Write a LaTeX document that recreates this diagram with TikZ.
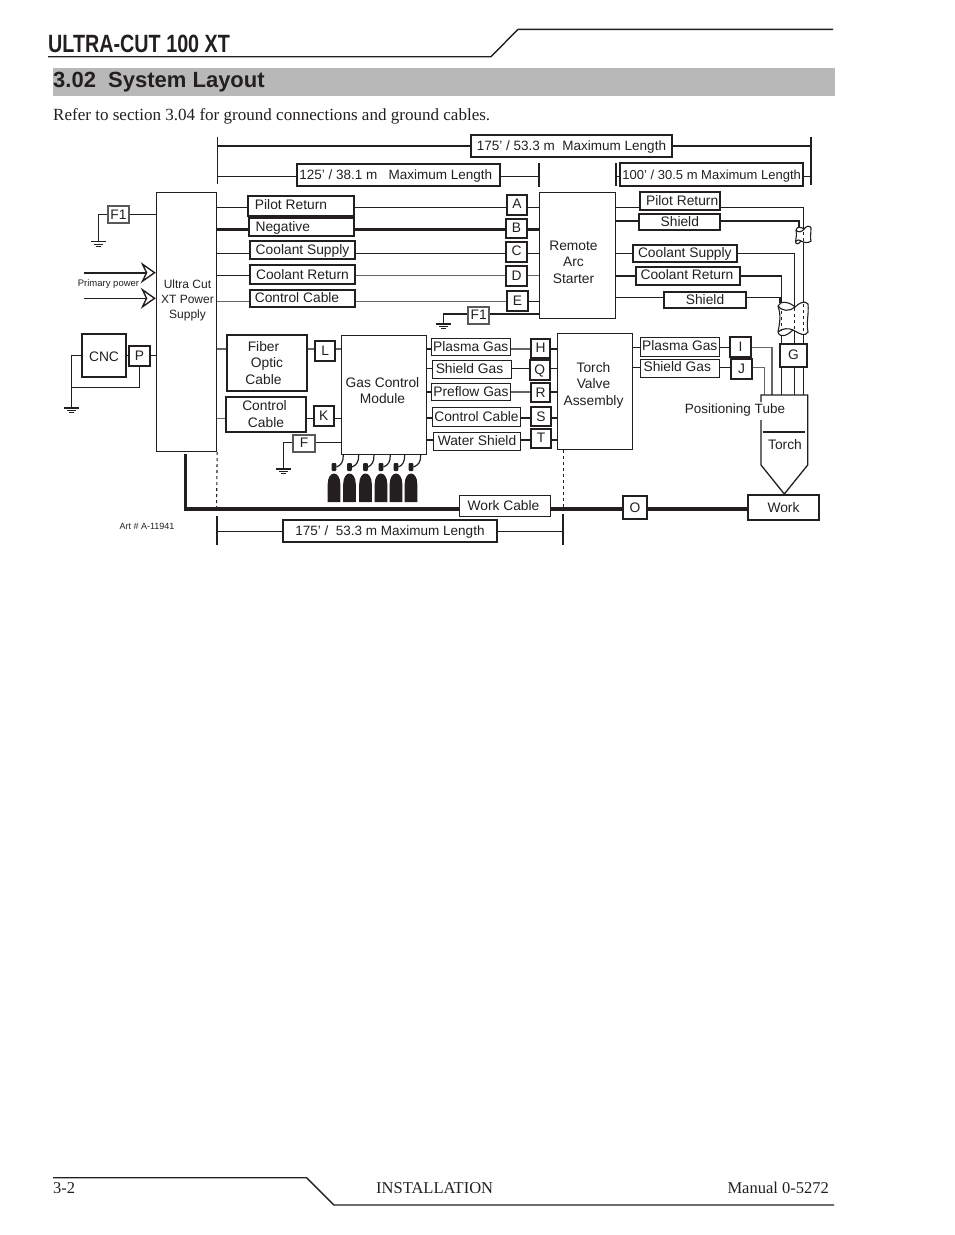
\documentclass[tikz,border=0pt]{standalone}
\usepackage{fontspec}
\setmainfont{Liberation Serif}
\setsansfont{Liberation Sans}
\usetikzlibrary{arrows.meta}
\definecolor{bandgray}{RGB}{184,184,184}
\definecolor{inkblack}{RGB}{35,31,32}
\tikzset{
  lbl/.style={draw=inkblack,text=inkblack,line width=1pt,inner sep=0pt,align=center,font=\sffamily\fontsize{13.8}{16.5}\selectfont,text height=12pt,text depth=3pt},
  lblb/.style={lbl,line width=1.9pt},
  lblg/.style={lbl,draw=black!65,line width=1.9pt},
  ltr/.style={text height=10pt},
  multi/.style={text height=,text depth=},
  lenfont/.style={font=\sffamily\fontsize{13.5}{16}\selectfont},
  sz/.style 2 args={minimum width=#1pt,minimum height=#2pt},
  txt/.style={text=inkblack,inner sep=0pt,align=center,font=\sffamily\fontsize{13.8}{16.5}\selectfont},
  wire/.style={draw=inkblack,line width=1.1pt},
  wireg/.style={draw=black!60,line width=1.3pt},
  wireb/.style={draw=inkblack,line width=3pt},
  dimbar/.style={draw=inkblack,line width=1.6pt},
  gnd/.pic={\draw[wire] (-7.3,0) -- (7.3,0) (-4.3,2.4) -- (4.3,2.4) (-2.3,4.7) -- (2.3,4.7);},
  cyl/.pic={\fill[inkblack] (-6.3,0) -- (-6.3,-18) .. controls (-6.3,-25) and (-3,-28.5) .. (0,-28.5) .. controls (3,-28.5) and (6.3,-25) .. (6.3,-18) -- (6.3,0) -- cycle;
    \fill[inkblack,rounded corners=1pt] (-2.4,-31) rectangle (2.4,-39);},
  pwrtip/.style={-{Stealth[open,length=15pt,width=21pt,inset=5pt,line width=1.4pt]}}
}
\begin{document}
\begin{tikzpicture}[x=1pt,y=-1pt]
\useasboundingbox (0,0) rectangle (954,1235);
% page head
\node[anchor=base west,inner sep=0pt,text=inkblack] (title) at (48,52.5) {\scalebox{.79}[1]{\sffamily\bfseries\fontsize{25}{25}\selectfont ULTRA-CUT 100 XT}};
\draw[inkblack,line width=1.4pt] (48,56.7) -- (491,56.7) -- (518,29.3) -- (833,29.3);
\fill[bandgray] (53,68) rectangle (835,96);
\node[anchor=base west,inner sep=0pt,text=inkblack] (heading) at (53,87) {\sffamily\bfseries\fontsize{22}{22}\selectfont 3.02\hspace{.556em}System Layout};
\node[anchor=base west,inner sep=0pt,text=inkblack] (refer) at (53,120) {\fontsize{17.05}{18}\selectfont Refer to section 3.04 for ground connections and ground cables.};
% page foot
\draw[inkblack,line width=1.4pt] (53,1177.7) -- (306.7,1177.7) -- (333.8,1205) -- (834,1205);
\node[anchor=base west,inner sep=0pt,text=inkblack] (pageno) at (53,1193) {\fontsize{16.5}{18}\selectfont 3-2};
\node[anchor=base west,inner sep=0pt,text=inkblack] (install) at (376,1193) {\fontsize{16.5}{18}\selectfont INSTALLATION};
\node[anchor=base east,inner sep=0pt,text=inkblack] (manual) at (829,1193) {\fontsize{16.5}{18}\selectfont Manual 0-5272};
% main units
\node[lbl,multi,sz={60.4}{259.4}] (psu) at (186.5,322) {};
\node[txt,font=\sffamily\fontsize{12}{14.7}\selectfont] (psutxt) at (187.5,300.5) {Ultra Cut\\XT Power\\Supply};
\node[lbl,multi,line width=1.3pt,sz={76.4}{126}] (ras) at (577.5,255.3) {};
\node[txt] (rastxt) at (573.5,262) {Remote\\Arc\\Starter};
\node[lbl,multi,line width=1.3pt,sz={85}{118.6}] (gcm) at (384.2,395) {};
\node[txt] (gcmtxt) at (382.5,390.5) {Gas Control\\Module};
\node[lbl,multi,sz={75.4}{116}] (tva) at (595,391.3) {};
\node[txt] (tvatxt) at (593.5,385) {Torch\\Valve\\Assembly};
\node[lblb,text height=15pt,sz={43.4}{43}] (cnc) at (104,355.8) {CNC};
\node[lblb,sz={70.4}{24.7}] (work) at (783.5,507.7) {Work};
% length bars
\coordinate (rowtop) at (0,145.7);
\coordinate (rowmid) at (0,176.3);
\coordinate (rowlow) at (0,531.3);
\coordinate (bara) at (217.3,136.7);
\coordinate (barb) at (217.3,184.3);
\coordinate (barc) at (810.7,136.7);
\coordinate (bard) at (810.7,185);
\coordinate (bare) at (539,163);
\coordinate (barf) at (539,186.7);
\coordinate (barg) at (615.7,163.3);
\coordinate (barh) at (615.7,186);
\coordinate (bari) at (216.7,516.3);
\coordinate (barj) at (216.7,545.3);
\coordinate (bark) at (563,514.3);
\coordinate (barl) at (563,545);
\node[lblb,lenfont,sz={201.6}{22.6}] (len175t) at (571.5,146) {175’ / 53.3 m\ \ Maximum Length};
\node[lblb,lenfont,sz={203.3}{22.3}] (len125) at (398.3,174.8) {125’ / 38.1 m\ \ \ Maximum Length\hspace*{5pt}};
\node[lblb,sz={183.3}{22.7},font=\sffamily\fontsize{13}{16}\selectfont] (len100) at (711.7,174.7) {100’ / 30.5 m Maximum Length};
\node[lblb,lenfont,sz={213.4}{22.6}] (len175b) at (390,531) {175’ /\ \ 53.3 m Maximum Length};
\draw[dimbar] (bara) -- (barb);
\draw[dimbar] (barc) -- (bard);
\draw[dimbar] (bare) -- (barf);
\draw[dimbar] (barg) -- (barh);
\draw[dimbar] (bari) -- (barj);
\draw[dimbar] (bark) -- (barl);
\draw[dimbar,line width=2pt] (bara |- rowtop) -- (len175t.west |- rowtop) (len175t.east |- rowtop) -- (barc |- rowtop);
\draw[wire] (barb |- rowmid) -- (len125.west |- rowmid) (len125.east |- rowmid) -- (bare |- rowmid);
\draw[wire] (barg |- rowmid) -- (len100.west |- rowmid) (len100.east |- rowmid) -- (bard |- rowmid);
\draw[wire] (bari |- rowlow) -- (len175b.west |- rowlow) (len175b.east |- rowlow) -- (bark |- rowlow);
% power supply to arc starter
\coordinate (rowa) at (0,207.3);
\coordinate (rowb) at (0,229);
\coordinate (rowc) at (0,253.3);
\coordinate (rowd) at (0,275.7);
\coordinate (rowe) at (0,301.7);
\node[lblb,ltr,sz={105.4}{19.4}] (pilotl) at (301,206) {Pilot Return\hspace*{20pt}};
\node[lblb,sz={105}{18}] (negl) at (301.8,227.3) {Negative\hspace*{38pt}};
\node[lblb,sz={104.4}{18.6}] (coolsl) at (302.5,250) {Coolant Supply};
\node[lblb,sz={104.4}{18.4}] (coolrl) at (302.5,274.5) {Coolant Return};
\node[lblb,ltr,sz={104.4}{17.6}] (ctrll) at (302.5,298.5) {Control Cable\hspace*{11pt}};
\node[lblb,ltr,sz={19.4}{20}] (a) at (517,204.7) {A};
\node[lblb,ltr,sz={20.4}{19.6}] (b) at (516.5,228.5) {B};
\node[lblb,ltr,sz={20.4}{20}] (c) at (516.5,252.3) {C};
\node[lblb,sz={20.4}{19.7}] (d) at (516.5,276.2) {D};
\node[lblb,sz={20.4}{19.7}] (e) at (517.5,301.2) {E};
\draw[wire] (psu.east |- rowa) -- (pilotl.west |- rowa) (pilotl.east |- rowa) -- (a.west |- rowa) (a.east |- rowa) -- (ras.west |- rowa);
\draw[wireb] (psu.east |- rowb) -- (negl.west |- rowb) (negl.east |- rowb) -- (b.west |- rowb) (b.east |- rowb) -- (ras.west |- rowb);
\draw[wire] (psu.east |- rowc) -- (coolsl.west |- rowc) (coolsl.east |- rowc) -- (c.west |- rowc) (c.east |- rowc) -- (ras.west |- rowc);
\draw[wire] (psu.east |- rowd) -- (coolrl.west |- rowd);
\draw[wireg] (coolrl.east |- rowd) -- (d.west |- rowd) (d.east |- rowd) -- (ras.west |- rowd);
\draw[wireg] (psu.east |- rowe) -- (ctrll.west |- rowe);
\draw[wireg] (ctrll.east |- rowe) -- (e.west |- rowe);
\draw[wire] (e.east |- rowe) -- (ras.west |- rowe);
% grounds, upper part
\coordinate (rowf) at (0,214.3);
\coordinate (rowg) at (0,314);
\coordinate (gnda) at (98.3,241.7);
\coordinate (gndb) at (443.3,324);
\node[lblg,sz={21.3}{17.3}] (fa) at (118.5,214.7) {F1};
\node[lblg,sz={21.3}{17.3}] (fb) at (478.7,315.3) {F1};
\draw[wire] (psu.west |- rowf) -- (fa.east |- rowf) (fa.west |- rowf) -| (gnda);
\pic at (gnda) {gnd};
\draw[wire] (ras.west |- rowg) -- (fb.east |- rowg) (fb.west |- rowg) -| (gndb);
\pic at (gndb) {gnd};
% primary power
\coordinate (pwra) at (84,272.7);
\coordinate (pwrb) at (84,298.3);
\draw[draw=inkblack,line width=2pt,pwrtip] (pwra) -- (psu.west |- pwra);
\draw[wire,pwrtip] (pwrb) -- (psu.west |- pwrb);
\node[txt,font=\sffamily\fontsize{9.5}{11}\selectfont] (pwrtxt) at (108.5,284.5) {Primary power};
% CNC
\coordinate (rowp) at (0,355.3);
\coordinate (rowq) at (0,387.3);
\coordinate (gndc) at (71.3,408);
\node[lblb,sz={20.4}{20}] (p) at (139.5,355.7) {P};
\draw[wire] (cnc.east |- rowp) -- (p.west |- rowp) (p.east |- rowp) -- (psu.west |- rowp);
\draw[wire] (p.south) |- (gndc |- rowq);
\draw[wire] (cnc.west) -| (gndc);
\pic at (gndc) {gnd};
% power supply to gas control
\coordinate (rowr) at (0,349);
\coordinate (rows) at (0,418.7);
\coordinate (rowt) at (0,442.3);
\coordinate (gndd) at (283.3,469);
\node[lblb,multi,sz={80.6}{56.6}] (fiber) at (267,363) {Fiber\hspace*{7pt}\\Optic\hspace*{7pt}\\Cable\hspace*{7pt}};
\node[lblb,multi,sz={80.6}{35}] (ctrlc) at (266,414.2) {Control\hspace*{3pt}\\Cable};
\node[lblb,sz={20}{20}] (l) at (325.3,351) {L};
\node[lblb,sz={20}{19.7}] (k) at (323.7,416.2) {K};
\node[lblg,sz={21.7}{17.3}] (f) at (304.2,443.3) {F};
\draw[wireg] (psu.east |- rowr) -- (fiber.west |- rowr) (fiber.east |- rowr) -- (l.west |- rowr) (l.east |- rowr) -- (gcm.west |- rowr);
\draw[wireg] (psu.east |- rows) -- (ctrlc.west |- rows);
\draw[wire] (ctrlc.east |- rows) -- (k.west |- rows) (k.east |- rows) -- (gcm.west |- rows);
\draw[wire] (gcm.west |- rowt) -- (f.east |- rowt) (f.west |- rowt) -| (gndd);
\pic at (gndd) {gnd};
% gas control to valve assembly
\coordinate (rowh) at (0,349);
\coordinate (rowi) at (0,368.3);
\coordinate (rowj) at (0,392);
\coordinate (rowk) at (0,418);
\coordinate (rowl) at (0,440);
\node[lbl,sz={79}{17}] (plasmal) at (470.8,347.2) {Plasma Gas};
\node[lbl,sz={79.4}{18}] (shieldl) at (472,369.3) {Shield Gas\hspace*{5pt}};
\node[lbl,sz={78.6}{17.3}] (preflow) at (471,392.3) {Preflow Gas};
\node[lbl,sz={88.4}{18.7}] (ctrlg) at (476.5,416.7) {Control Cable};
\node[lbl,sz={87.4}{18}] (water) at (477,441.3) {Water Shield};
\node[lblb,ltr,sz={19.6}{19.3}] (h) at (540.5,348.7) {H};
\node[lblb,sz={19.7}{20}] (q) at (539.8,370.3) {Q};
\node[lblb,sz={19.6}{19.6}] (r) at (540.5,392.5) {R};
\node[lblb,sz={19.4}{18.7}] (s) at (541,416.7) {S};
\node[lblb,sz={19.4}{19.3}] (t) at (541,438.3) {T};
\draw[wire] (gcm.east |- rowh) -- (plasmal.west |- rowh);
\draw[wireg] (plasmal.east |- rowh) -- (h.west |- rowh);
\draw[wire] (h.east |- rowh) -- (tva.west |- rowh);
\draw[wire] (gcm.east |- rowi) -- (shieldl.west |- rowi) (shieldl.east |- rowi) -- (q.west |- rowi) (q.east |- rowi) -- (tva.west |- rowi);
\draw[wire] (gcm.east |- rowj) -- (preflow.west |- rowj);
\draw[wireg] (preflow.east |- rowj) -- (r.west |- rowj);
\draw[wire] (r.east |- rowj) -- (tva.west |- rowj);
\draw[wire] (gcm.east |- rowk) -- (ctrlg.west |- rowk) (ctrlg.east |- rowk) -- (s.west |- rowk) (s.east |- rowk) -- (tva.west |- rowk);
\draw[wire] (gcm.east |- rowl) -- (water.west |- rowl) (water.east |- rowl) -- (t.west |- rowl) (t.east |- rowl) -- (tva.west |- rowl);
% gas bottles
\foreach \cx/\hx in {334/343.3,349.5/358.7,365.5/374,381/390.3,396/404.7,411/420.7} {
  \pic at (\cx,502) {cyl};
  \draw[draw=inkblack,line width=1.2pt] (\hx,0 |- gcm.south) .. controls (\hx,462) and (\hx-2,465) .. (\cx+2.5,467);
}
% arc starter to torch
\coordinate (rowu) at (0,207.3);
\coordinate (rowv) at (0,221);
\coordinate (roww) at (0,253.3);
\coordinate (rowx) at (0,276);
\coordinate (rowy) at (0,297.3);
\coordinate (rowz) at (0,347.7);
\coordinate (rowzz) at (0,367.3);
\coordinate (pipea) at (781.7,395);
\coordinate (pipeb) at (794.3,395);
\coordinate (pipec) at (803.7,395);
\coordinate (piped) at (799,227);
\coordinate (pipee) at (780,303);
\coordinate (pipef) at (772,395);
\coordinate (pipeg) at (764.3,395);
\node[lblb,sz={80.3}{18}] (pilotr) at (680.2,201.3) {\hspace*{4pt}Pilot Return};
\node[lblb,sz={81}{16}] (shieldr) at (679.8,222) {Shield};
\node[lblb,ltr,sz={104}{17.6}] (coolsr) at (685.3,253.5) {Coolant Supply\hspace*{1pt}};
\node[lblb,ltr,sz={104.6}{17.7}] (coolrr) at (688,276.2) {Coolant Return\hspace*{2pt}};
\node[lblb,sz={81.4}{16.6}] (shieldb) at (705,300) {Shield};
\draw[wire] (ras.east |- rowu) -- (pilotr.west |- rowu) (pilotr.east |- rowu) -| (pipec);
\draw[wire] (ras.east |- rowv) -- (shieldr.west |- rowv) (shieldr.east |- rowv) -| (piped);
\draw[wire] (ras.east |- roww) -- (coolsr.west |- roww);
\draw[draw=inkblack,line width=1.6pt] (coolsr.east |- roww) -| (pipeb);
\draw[wire] (ras.east |- rowx) -- (coolrr.west |- rowx) (coolrr.east |- rowx) -| (pipea);
\draw[wire] (ras.east |- rowy) -- (shieldb.west |- rowy) (shieldb.east |- rowy) -| (pipee);
% small shield sleeve
\draw[wire,fill=white] (796,230) .. controls (797,226) and (801,227) .. (804,229) .. controls (806,226) and (810,225) .. (811,228) .. controls (811,233) and (810,238) .. (811,241) .. controls (808,244) and (803,242) .. (801,241) .. controls (799,244) and (796,245) .. (795.5,242) .. controls (796,238) and (797,234) .. (796,230);
\draw[wire] (796,230) .. controls (798,233) and (802,232) .. (804,229) (795.5,242) .. controls (797,239) and (800,240) .. (801,241);
\draw[wire,dashed] (803.7,232) -- (803.7,241);
% large shield sleeve
\draw[wire,fill=white] (778,306) .. controls (780,300) and (790,302) .. (795,307) .. controls (799,303) and (805,300) .. (808,304) .. controls (809,315) and (806,322) .. (808,332) .. controls (805,337) and (800,334) .. (793,330) .. controls (788,335) and (780,339) .. (778,332) .. controls (780,322) and (781,315) .. (778,306);
\draw[wire] (778,306) .. controls (781,311) and (790,312) .. (795,307) (778,332) .. controls (782,328) and (789,328) .. (793,330);
\draw[wire,dashed] (781.7,311) -- (781.7,331) (794.3,308) -- (794.3,330) (803.7,304) -- (803.7,334);
% G and gas feed
\node[lblb,ltr,fill=white,sz={26.4}{23}] (g) at (793.5,355.8) {G};
\node[lbl,ltr,sz={79}{19}] (plasmar) at (679.8,347.2) {Plasma Gas};
\node[lbl,ltr,sz={79}{18}] (shieldg) at (679.8,368.3) {Shield Gas\hspace*{5pt}};
\node[lblb,sz={20.4}{19.7}] (i) at (740.5,347.2) {I};
\node[lblb,sz={20.4}{20}] (j) at (741.5,369) {J};
\draw[wire] (tva.east |- rowz) -- (plasmar.west |- rowz) (plasmar.east |- rowz) -- (i.west |- rowz);
\draw[wireg] (i.east |- rowz) -| (pipef);
\draw[wire] (tva.east |- rowzz) -- (shieldg.west |- rowzz) (shieldg.east |- rowzz) -- (j.west |- rowzz);
\draw[wireg] (j.east |- rowzz) -| (pipeg);
% torch
\draw[draw=inkblack,line width=1.3pt] (761,402) -- (761,395) -- (807.7,395) -- (807.7,465) -- (784.3,494) -- (761,465) -- (761,420);
\draw[draw=inkblack,line width=1.6pt] (762.7,432) -- (805,432);
\node[txt,font=\sffamily\fontsize{13.5}{16}\selectfont] (ptube) at (735,410.5) {Positioning Tube};
\node[txt] (torch) at (785,445) {Torch};
% work cable
\coordinate (rowo) at (0,509);
\coordinate (wka) at (185.7,454);
\coordinate (dasha) at (216.5,511.7);
\coordinate (dashb) at (563.3,507.7);
\node[lbl,sz={91.4}{21}] (wcab) at (505,505.8) {Work Cable\hspace*{3pt}};
\node[lblb,sz={23.4}{23}] (o) at (635,507.8) {O};
\draw[wireb,line width=3.4pt] (wka) |- (wcab.west |- rowo);
\draw[wireb,line width=3.4pt] (wcab.east |- rowo) -- (o.west |- rowo) (o.east |- rowo) -- (work.west |- rowo);
\draw[wire,dashed] (psu.south east) -- (dasha);
\draw[wire,dashed] (dashb |- tva.south) -- (dashb);
\node[txt,font=\sffamily\fontsize{9}{11}\selectfont] (artno) at (147,526) {Art \# A-11941};
\end{tikzpicture}
\end{document}
